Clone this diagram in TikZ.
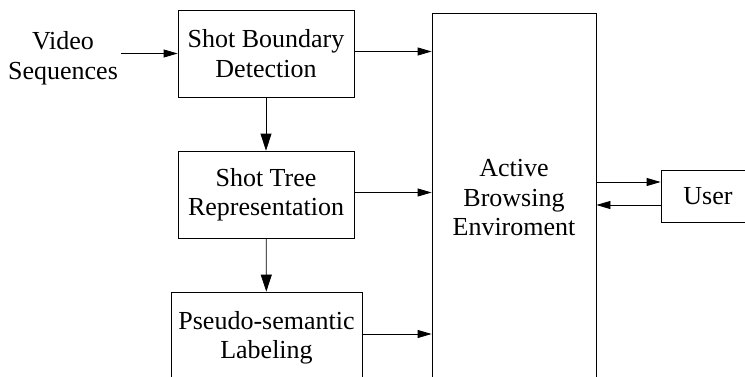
\documentclass[tikz,border=0pt]{standalone}
\usepackage{fontspec}
\setmainfont{Liberation Serif}
\usetikzlibrary{arrows.meta,positioning,calc}

\begin{document}
\begin{tikzpicture}[x=1pt,y=1pt,line width=0.8pt,
	>={Triangle[length=14pt,width=8pt]},
	down/.style={-{Triangle[length=17pt,width=11pt]}},
	blk/.style={draw,align=center,inner sep=0pt,font=\fontsize{26}{29.5}\selectfont},
	txt/.style={align=center,inner sep=3pt,font=\fontsize{26}{29.5}\selectfont}]
\clip (0,0) rectangle (745,376);
\node[txt] (vid) at (63,318) {Video\\Sequences};
\node[blk,minimum width=176,minimum height=87] (sbd) at (266,322.5) {Shot Boundary\\Detection};
\node[blk,minimum width=176,minimum height=87] (str) at (266,181.5) {Shot Tree\\Representation};
\node[blk,minimum width=191,minimum height=92] (psl) at (266.5,38) {Pseudo-semantic\\Labeling};
\node[blk,minimum width=164,minimum height=370] (abe) at (514,178) {Active\\Browsing\\Enviroment};
\node[blk,minimum width=94,minimum height=52] (usr) at (708,180) {User};
\draw[->] (sbd.west -| vid.east) -- (sbd.west);
\draw[down] (sbd) -- (str);
\draw[down] (str) -- (psl);
\draw[->] ([yshift=2]sbd.east) -- ([yshift=2]sbd.east -| abe.west);
\draw[->] ([yshift=2]str.east) -- ([yshift=2]str.east -| abe.west);
\draw[->] ([yshift=4]psl.east) -- ([yshift=4]psl.east -| abe.west);
\draw[->] ([yshift=14]usr.west -| abe.east) -- ([yshift=14]usr.west);
\draw[->] ([yshift=-9]usr.west) -- ([yshift=-9]usr.west -| abe.east);
\end{tikzpicture}
\end{document}
